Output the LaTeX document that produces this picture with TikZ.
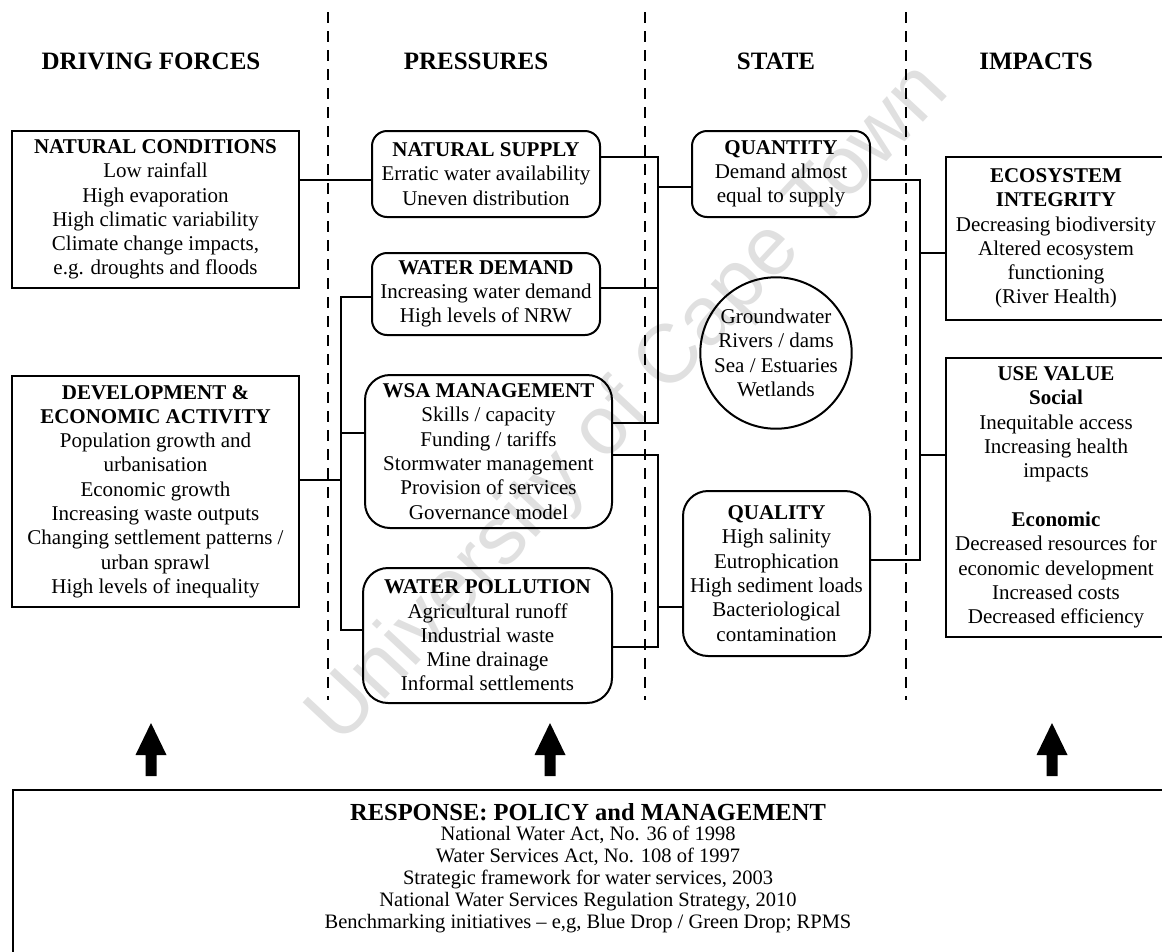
\documentclass[tikz,border=0pt]{standalone}
\usepackage{fontspec}
\setmainfont{Liberation Serif}
\newfontfamily\wmfont{Liberation Sans}
\usetikzlibrary{calc}

\begin{document}
\begin{tikzpicture}[x=1pt,y=-1pt,
  box/.style={draw,line width=2pt,align=center,inner sep=0pt,
    font=\fontsize{21}{24.3}\selectfont},
  rbox/.style={box,rounded corners=#1},
  link/.style={line width=1.7pt},
  divider/.style={line width=1.8pt,dash pattern=on 11pt off 8pt},
  head/.style={font=\fontsize{25}{28}\selectfont\bfseries,anchor=base},
  blockarrow/.style={fill=black},
]
\useasboundingbox (0,0) rectangle (1162,951);

% watermark
\node[rotate=47,font=\wmfont\fontsize{83}{83}\selectfont,text=black!12] (wm)
  at (630,405) {University of Cape Town};

% column dividers
\foreach \xx in {328,645,906}
  \draw[divider] (\xx,12) -- (\xx,700);

% column headings
\node[head] (hdf) at (151,69) {DRIVING FORCES};
\node[head] (hp)  at (476,69) {PRESSURES};
\node[head] (hs)  at (776,69) {STATE};
\node[head] (hi)  at (1036,69) {IMPACTS};

% driving forces
\node[box,minimum width=287pt,minimum height=157pt] (nc) at (155.5,209.5)
  {\textbf{NATURAL CONDITIONS}\\Low rainfall\\High evaporation\\High climatic variability\\Climate change impacts,\\e.g. droughts and floods};
\node[box,minimum width=287pt,minimum height=231pt] (dev) at (155.5,491.5)
  {\textbf{DEVELOPMENT \&}\\\textbf{ECONOMIC ACTIVITY}\\Population growth and\\urbanisation\\Economic growth\\Increasing waste outputs\\Changing settlement patterns /\\urban sprawl\\High levels of inequality};

% pressures
\node[rbox=15pt,minimum width=228pt,minimum height=86pt] (ns) at (486,174)
  {\textbf{NATURAL SUPPLY}\\Erratic water availability\\Uneven distribution};
\node[rbox=15pt,minimum width=228pt,minimum height=82pt] (wd) at (486,294)
  {\textbf{WATER DEMAND}\\Increasing water demand\\High levels of NRW};
\node[rbox=25pt,minimum width=247pt,minimum height=153pt] (wsa) at (488.5,451.5)
  {\textbf{WSA MANAGEMENT}\\Skills / capacity\\Funding / tariffs\\Stormwater management\\Provision of services\\Governance model};
\node[rbox=25pt,minimum width=249pt,minimum height=135pt] (wp) at (487.5,635.5)
  {\textbf{WATER POLLUTION}\\Agricultural runoff\\Industrial waste\\Mine drainage\\Informal settlements};

% state
\node[rbox=15pt,minimum width=178pt,minimum height=86pt] (qty) at (781,174)
  {\textbf{QUANTITY}\\Demand almost\\equal to supply};
\node[box,circle,minimum size=150pt] (res) at (776,353)
  {Groundwater\\Rivers / dams\\Sea / Estuaries\\Wetlands};
\node[rbox=25pt,minimum width=187pt,minimum height=165pt] (qual) at (776.5,573.5)
  {\textbf{QUALITY}\\High salinity\\Eutrophication\\High sediment loads\\Bacteriological\\contamination};

% impacts
\node[box,minimum width=220pt,minimum height=163pt] (eco) at (1056,238.5)
  {\textbf{ECOSYSTEM}\\\textbf{INTEGRITY}\\Decreasing biodiversity\\Altered ecosystem\\functioning\\(River Health)};
\node[box,minimum width=220pt,minimum height=279pt] (use) at (1056,497.5)
  {\textbf{USE VALUE}\\\textbf{Social}\\Inequitable access\\Increasing health\\impacts\\[24.3pt]\textbf{Economic}\\Decreased resources for\\economic development\\Increased costs\\Decreased efficiency};

% response
\node[draw,line width=2pt,inner sep=0pt,minimum width=1160pt,minimum height=200pt,
  anchor=north west] (resp) at (12,789) {};
\node[anchor=base,inner sep=0pt,font=\fontsize{24.5}{28}\selectfont\bfseries] (resptitle)
  at ($(resp.north west)+(576,31)$) {RESPONSE: POLICY and MANAGEMENT};
\node[anchor=base,inner sep=0pt] (resplist) at ($(resp.north west)+(576,51)$)
  {\fontsize{20.5}{22}\selectfont
   \begin{tabular}[t]{@{}c@{}}
   National Water Act, No. 36 of 1998\\
   Water Services Act, No. 108 of 1997\\
   Strategic framework for water services, 2003\\
   National Water Services Regulation Strategy, 2010\\
   Benchmarking initiatives -- e,g, Blue Drop / Green Drop; RPMS
   \end{tabular}};

% response feedback arrows
\foreach \ax/\nm in {151/a,550/b,1052/c}{
  \coordinate (tip\nm) at (\ax,723);
  \fill[blockarrow] (tip\nm) -- ++(15.5,32) -- ++(-10,0) -- ++(0,21) -- ++(-11,0)
    -- ++(0,-21) -- ++(-10,0) -- cycle;
}

% driving forces -> pressures
\coordinate (ncR) at ($(ns.west)+(0,6)$);
\draw[link] (nc.east |- ncR) -- (ncR);

\coordinate (lbx) at ($(wsa.west)+(-23,0)$);
\coordinate (wdL) at ($(wd.west)+(0,3)$);
\coordinate (wsaL) at ($(wsa.west)+(0,-18.5)$);
\coordinate (wpL) at ($(wp.west)+(0,-5.5)$);
\coordinate (devR) at ($(dev.east)+(0,-11.5)$);
\draw[link] (wdL) -- (wdL -| lbx) -- (wpL -| lbx) -- (wpL);
\draw[link] (wsaL -| lbx) -- (wsaL);
\draw[link] (devR) -- (devR -| lbx);

% pressures -> quantity
\coordinate (rbx) at ($(ns.east)+(57,0)$);
\coordinate (nsR) at ($(ns.east)+(0,-17)$);
\coordinate (wdR) at ($(wd.east)+(0,-6)$);
\coordinate (wsaR) at ($(wsa.east)+(0,-28.5)$);
\coordinate (qtyL) at ($(qty.west)+(0,13)$);
\draw[link] (nsR) -- (nsR -| rbx) -- (wsaR -| rbx) -- (wsaR);
\draw[link] (wdR) -- (wdR -| rbx);
\draw[link] (qtyL -| rbx) -- (qtyL);

% pressures -> quality
\coordinate (wsaR2) at ($(wsa.east)+(0,3.5)$);
\coordinate (wpR) at ($(wp.east)+(0,11.5)$);
\coordinate (qualL) at ($(qual.west)+(0,33.5)$);
\draw[link] (wsaR2) -- (wsaR2 -| rbx) -- (wpR -| rbx) -- (wpR);
\draw[link] (qualL -| rbx) -- (qualL);

% state -> impacts
\coordinate (ibx) at ($(qty.east)+(49,0)$);
\coordinate (qtyR) at ($(qty.east)+(0,6)$);
\coordinate (qualR) at ($(qual.east)+(0,-13.5)$);
\coordinate (ecoL) at ($(eco.west)+(0,14.5)$);
\coordinate (useL) at ($(use.west)+(0,-42.5)$);
\draw[link] (qtyR) -- (qtyR -| ibx) -- (qualR -| ibx) -- (qualR);
\draw[link] (ecoL -| ibx) -- (ecoL);
\draw[link] (useL -| ibx) -- (useL);
\end{tikzpicture}
\end{document}
